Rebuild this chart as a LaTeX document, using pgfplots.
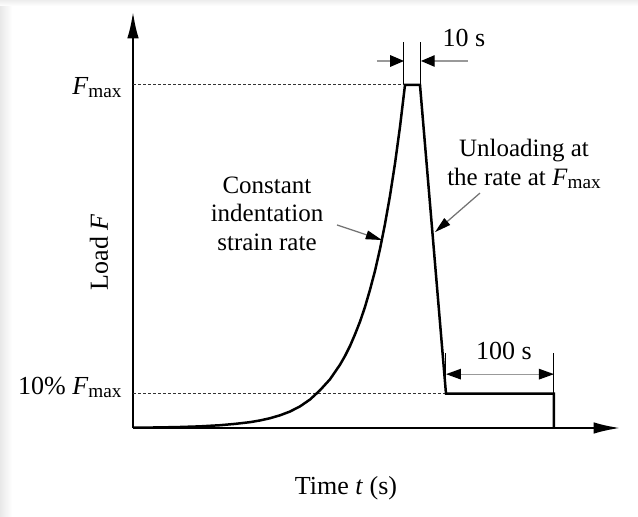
\documentclass[border=0pt]{standalone}
\usepackage{fontspec}
\setmainfont{Liberation Serif}
\usepackage{pgfplots}
\pgfplotsset{compat=1.18}
\usetikzlibrary{arrows.meta}
\newcommand{\Fmax}{\textit{F}\raisebox{-1.2pt}{\fontsize{7.7}{8}\selectfont max}}
\begin{document}
\fontsize{10}{11.4}\selectfont
\begin{tikzpicture}[font=\fontsize{10}{11.4}\selectfont]
\shade[left color=black!9,right color=white] (0,0) rectangle (4.8pt,206.8pt);
\shade[top color=black!7,bottom color=white] (0,204.4pt) rectangle (255.2pt,206.8pt);
\begin{axis}[
  at={(53.2pt,35.6pt)}, anchor=south west,
  scale only axis, width=194.8pt, height=166.4pt,
  xmin=133, xmax=620, ymin=0, ymax=121.28,
  axis lines=left,
  x axis line style={line width=0.8pt, -{Latex[length=10.5pt,width=4.6pt]}},
  y axis line style={line width=0.8pt, -{Latex[length=10.5pt,width=4.6pt]}},
  xtick=\empty, ytick=\empty,
  clip=false,
]
% reference levels
\addplot[black!80, line width=0.4pt, dash pattern=on 1.3pt off 0.7pt] coordinates {(133,100) (404,100)};
\addplot[black!80, line width=0.4pt, dash pattern=on 1.3pt off 0.7pt] coordinates {(133,10) (446,10)};
% load history
\addplot[black, line width=1pt] coordinates {
(133,0.08) (160,0.17) (180,0.29) (200,0.48) (220,0.81) (235,1.20) (250,1.70)
(260,2.20) (270,2.85) (280,3.70) (290,4.80) (300,6.30) (310,8.30) (320,11.0)
(330,14.2) (340,18.45) (345,21.0) (350,23.9) (355,27.3) (360,31.0) (365,35.3)
(370,40.3) (375,45.8) (380,52.2) (385,59.5) (390,67.7) (395,77.1) (400,87.8)
(405,100) (420,100) (446,10) (554,10) (554,0)
};
% 10 s annotation
\draw[black, line width=0.4pt] (axis cs:404,100.3) -- (axis cs:404,112.5);
\draw[black, line width=0.4pt] (axis cs:421,100.3) -- (axis cs:421,112.5);
\draw[black!40, line width=0.5pt, -{Triangle[length=5.5pt,width=4.6pt,color=black]}] (axis cs:377,107) -- (axis cs:404,107);
\draw[black!40, line width=0.5pt, -{Triangle[length=5.5pt,width=4.6pt,color=black]}] (axis cs:468,107) -- (axis cs:421,107);
\node[anchor=base, font=\fontsize{10.4}{12}\selectfont] at (axis cs:464,111.1) {10 s};
% 100 s annotation
\draw[black, line width=0.4pt] (axis cs:446,10) -- (axis cs:446,21.9);
\draw[black, line width=0.4pt] (axis cs:554,10) -- (axis cs:554,21.9);
\draw[black!40, line width=0.5pt, {Triangle[length=6pt,width=4.2pt,color=black]}-{Triangle[length=6pt,width=4.2pt,color=black]}] (axis cs:446,15.7) -- (axis cs:554,15.7);
\node[anchor=base, font=\fontsize{10.4}{12}\selectfont] at (axis cs:504,20.1) {100 s};
% curve labels
\node[align=center] at (axis cs:267,62.5) {Constant\\indentation\\strain rate};
\draw[black!55, line width=0.5pt, -{Triangle[length=6.5pt,width=3.5pt,color=black]}] (axis cs:337,59.2) -- (axis cs:382,54.8);
\node[align=center] at (axis cs:524,77) {Unloading at\\the rate at \Fmax};
\draw[black!55, line width=0.5pt, -{Triangle[length=6.5pt,width=3.5pt,color=black]}] (axis cs:480,68.5) -- (axis cs:435,57.1);
% level labels
\node[anchor=base east, inner sep=0pt, font=\fontsize{10.4}{12}\selectfont] at (axis cs:122,97.1) {\Fmax};
\node[anchor=base east, inner sep=0pt, font=\fontsize{10.4}{12}\selectfont] at (axis cs:122,9.9) {10\% \Fmax};
% axis titles
\node[anchor=base, font=\fontsize{10.4}{12}\selectfont] at (axis cs:346,-19.5) {Time \textit{t} (s)};
\node[rotate=90, anchor=base, font=\fontsize{10.4}{12}\selectfont] at (axis cs:108,51.3) {Load \textit{F}};
\end{axis}
\pgfresetboundingbox
\path (0,0) rectangle (255.2pt,206.8pt);
\end{tikzpicture}
\end{document}
